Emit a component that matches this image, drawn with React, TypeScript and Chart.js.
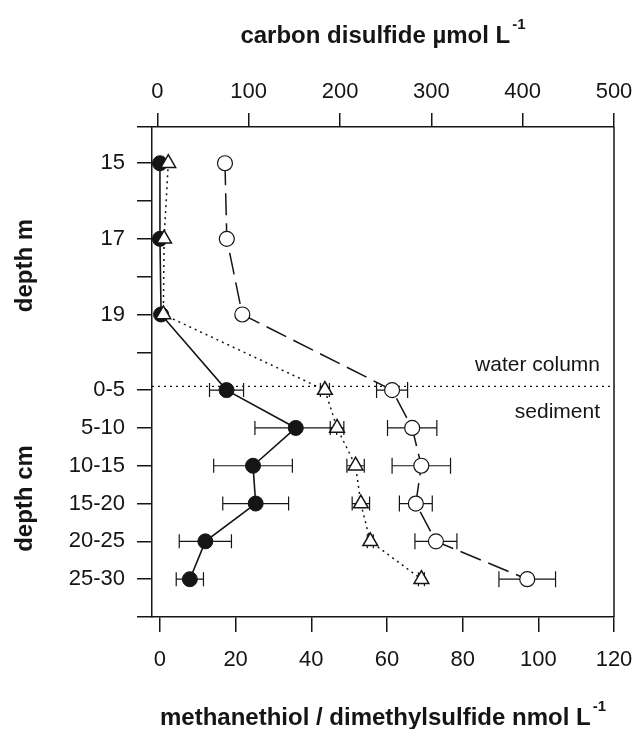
import React, { useEffect, useRef } from "react";
import { Chart, registerables } from "chart.js";

Chart.register(...registerables);

// ---- data ----
const depthLabels = ["15", "", "17", "", "19", "", "0-5", "5-10", "10-15", "15-20", "20-25", "25-30"];
const depthPos = [0, 2, 4, 6, 7, 8, 9, 10, 11];
const methanethiol = [0, 0, 0.3, 17.6, 35.9, 24.6, 25.3, 12.0, 7.9];
const methanethiolErr = [0, 0, 0, 4.5, 10.8, 10.4, 8.7, 6.9, 3.6];
const dimethylsulfide = [2.2, 1.1, 0.9, 43.6, 46.8, 51.7, 53.1, 55.6, 69.1];
const dimethylsulfideErr = [0, 0, 0, 1.2, 1.8, 2.3, 2.3, 0.8, 0.8];
const carbonDisulfide = [74, 76, 93, 257, 279, 289, 283, 305, 405];
const carbonDisulfideErr = [0, 0, 0, 17, 27, 32, 18, 23, 31];
const bottomTicks = [0, 20, 40, 60, 80, 100, 120];
const topTicks = [0, 100, 200, 300, 400, 500];
const dividerPos = 5.9;

const INK = "#151515";
const FONT = "'Liberation Sans', Arial, Helvetica, sans-serif";

const toPoints = (xs: number[]) => xs.map((x, i) => ({ x, y: depthPos[i] }));

const drawTitle = (ctx: CanvasRenderingContext2D, main: string, sup: string, cx: number, baseY: number) => {
  ctx.save();
  ctx.fillStyle = INK;
  ctx.textBaseline = "alphabetic";
  ctx.textAlign = "left";
  ctx.font = `bold 24px ${FONT}`;
  const w1 = ctx.measureText(main).width;
  ctx.font = `bold 15px ${FONT}`;
  const w2 = ctx.measureText(sup).width;
  const x0 = cx - (w1 + w2 + 2) / 2;
  ctx.font = `bold 24px ${FONT}`;
  ctx.fillText(main, x0, baseY);
  ctx.font = `bold 15px ${FONT}`;
  ctx.fillText(sup, x0 + w1 + 2, baseY - 14);
  ctx.restore();
};

const decorPlugin = {
  id: "decor",
  beforeDatasetsDraw(chart: any) {
    const { ctx, chartArea: a, scales } = chart;
    ctx.save();
    // water column / sediment divider
    const yDiv = scales.y.getPixelForValue(dividerPos);
    ctx.strokeStyle = INK;
    ctx.lineWidth = 1.2;
    ctx.setLineDash([2, 4]);
    ctx.beginPath();
    ctx.moveTo(a.left, yDiv);
    ctx.lineTo(a.right, yDiv);
    ctx.stroke();
    ctx.setLineDash([]);
    // error bars
    chart.data.datasets.forEach((ds: any) => {
      const errs: number[] | undefined = ds.errors;
      if (!errs) return;
      const xs = scales[ds.xAxisID];
      ctx.lineWidth = 1.2;
      ctx.strokeStyle = INK;
      ds.data.forEach((pt: any, j: number) => {
        const e = errs[j];
        if (!e) return;
        const y = scales.y.getPixelForValue(pt.y);
        const x1 = xs.getPixelForValue(pt.x - e);
        const x2 = xs.getPixelForValue(pt.x + e);
        const h = ds.capHalf;
        ctx.beginPath();
        ctx.moveTo(x1, y);
        ctx.lineTo(x2, y);
        ctx.moveTo(x1, y - h);
        ctx.lineTo(x1, y + h);
        ctx.moveTo(x2, y - h);
        ctx.lineTo(x2, y + h);
        ctx.stroke();
      });
    });
    ctx.restore();
  },
  afterDraw(chart: any) {
    const { ctx, chartArea: a, scales } = chart;
    ctx.save();
    // right frame line
    ctx.strokeStyle = INK;
    ctx.lineWidth = 1.5;
    ctx.beginPath();
    ctx.moveTo(a.right, a.top);
    ctx.lineTo(a.right, a.bottom);
    ctx.stroke();
    // region labels
    ctx.fillStyle = INK;
    ctx.font = `21px ${FONT}`;
    ctx.textAlign = "right";
    ctx.textBaseline = "middle";
    const yDiv = scales.y.getPixelForValue(dividerPos);
    ctx.fillText("water column", a.right - 14, yDiv - 21);
    ctx.fillText("sediment", a.right - 14, yDiv + 26);
    // axis titles
    const cx = (a.left + a.right) / 2;
    drawTitle(ctx, "carbon disulfide \u00B5mol L", "-1", cx, 43);
    drawTitle(ctx, "methanethiol / dimethylsulfide nmol L", "-1", cx, 725);
    // vertical titles
    ctx.font = `bold 24px ${FONT}`;
    ctx.textAlign = "center";
    ctx.textBaseline = "alphabetic";
    const vt = (txt: string, cy: number) => {
      ctx.save();
      ctx.translate(31.5, cy);
      ctx.rotate(-Math.PI / 2);
      ctx.fillText(txt, 0, 0);
      ctx.restore();
    };
    vt("depth m", 265.5);
    vt("depth cm", 498.5);
    ctx.restore();
  },
};

export default function App() {
  const ref = useRef<HTMLCanvasElement | null>(null);

  useEffect(() => {
    if (!ref.current) return;
    Chart.defaults.font.family = FONT;
    const tickFont = { family: FONT, size: 22 };
    const chart = new Chart(ref.current, {
      type: "scatter",
      data: {
        datasets: [
          {
            label: "dimethylsulfide",
            data: toPoints(dimethylsulfide),
            xAxisID: "x",
            yAxisID: "y",
            showLine: true,
            borderColor: INK,
            borderWidth: 1.5,
            borderDash: [2, 4],
            pointStyle: "triangle",
            pointRadius: 8.5,
            pointBorderWidth: 1.5,
            pointBackgroundColor: "#ffffff",
            pointBorderColor: INK,
            errors: dimethylsulfideErr,
            capHalf: 7,
          } as any,
          {
            label: "methanethiol",
            data: toPoints(methanethiol),
            xAxisID: "x",
            yAxisID: "y",
            showLine: true,
            borderColor: INK,
            borderWidth: 1.6,
            pointStyle: "circle",
            pointRadius: 7.5,
            pointBorderWidth: 1,
            pointBackgroundColor: INK,
            pointBorderColor: INK,
            errors: methanethiolErr,
            capHalf: 7,
          } as any,
          {
            label: "carbon disulfide",
            data: toPoints(carbonDisulfide),
            xAxisID: "x2",
            yAxisID: "y",
            showLine: true,
            borderColor: INK,
            borderWidth: 1.5,
            borderDash: [22, 8],
            pointStyle: "circle",
            pointRadius: 7.5,
            pointBorderWidth: 1.2,
            pointBackgroundColor: "#ffffff",
            pointBorderColor: INK,
            errors: carbonDisulfideErr,
            capHalf: 8,
          } as any,
        ],
      },
      options: {
        animation: false,
        responsive: true,
        maintainAspectRatio: false,
        layout: { padding: { left: 0, right: 23, top: 0, bottom: 0 } },
        plugins: { legend: { display: false }, tooltip: { enabled: false } },
        scales: {
          y: {
            type: "linear",
            position: "left",
            reverse: true,
            min: -0.958,
            max: 12,
            afterBuildTicks: (s: any) => {
              s.ticks = [-0.958, ...depthLabels.map((_, i) => i), 12].map((v) => ({ value: v }));
            },
            afterFit: (s: any) => {
              s.width = 152;
              s.paddingTop = 0;
              s.paddingBottom = 0;
            },
            ticks: {
              autoSkip: false,
              padding: 12,
              color: INK,
              font: tickFont,
              callback: (v: any) => (Number.isInteger(v) && depthLabels[v] !== undefined ? depthLabels[v] : ""),
            },
            grid: { drawOnChartArea: false, drawTicks: true, tickLength: 15, color: INK, lineWidth: 1.5 },
            border: { display: true, color: INK, width: 1.5 },
          },
          x: {
            type: "linear",
            position: "bottom",
            min: -2.1,
            max: 120,
            afterBuildTicks: (s: any) => {
              s.ticks = bottomTicks.map((v) => ({ value: v }));
            },
            afterFit: (s: any) => {
              s.height = 112;
              s.paddingLeft = 0;
              s.paddingRight = 0;
            },
            ticks: { autoSkip: false, maxRotation: 0, padding: 15, color: INK, font: tickFont, callback: (v: any) => String(v) },
            grid: { drawOnChartArea: false, drawTicks: true, tickLength: 15, color: INK, lineWidth: 1.5 },
            border: { display: true, color: INK, width: 1.5 },
          },
          x2: {
            type: "linear",
            position: "top",
            min: -5.9,
            max: 500,
            afterBuildTicks: (s: any) => {
              s.ticks = topTicks.map((v) => ({ value: v }));
            },
            afterFit: (s: any) => {
              s.height = 127;
              s.paddingLeft = 0;
              s.paddingRight = 0;
            },
            ticks: { autoSkip: false, maxRotation: 0, padding: 8, color: INK, font: tickFont, callback: (v: any) => String(v) },
            grid: { drawOnChartArea: false, drawTicks: true, tickLength: 14, color: INK, lineWidth: 1.5 },
            border: { display: true, color: INK, width: 1.5 },
          },
        },
      } as any,
      plugins: [decorPlugin],
    });
    return () => chart.destroy();
  }, []);

  return (
    <div style={{ position: "absolute", left: 0, top: 0, width: 637, height: 729, background: "#fff" }}>
      <canvas ref={ref} />
    </div>
  );
}
